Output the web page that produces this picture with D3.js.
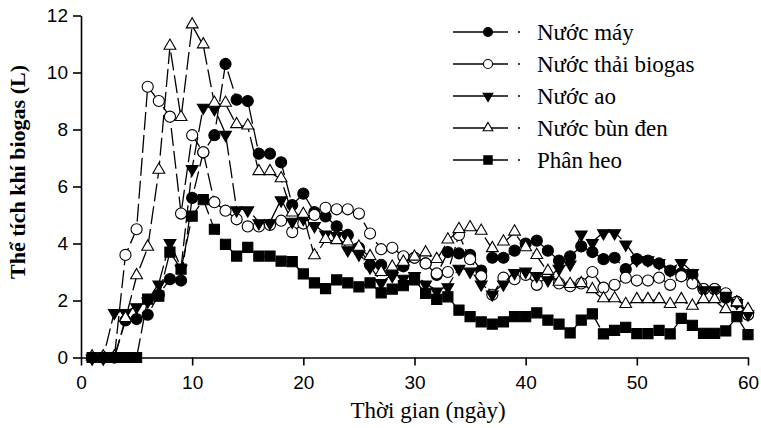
<!DOCTYPE html>
<html>
<head>
<meta charset="utf-8">
<script src="https://cdn.jsdelivr.net/npm/d3@7"></script>
<style>
  body { margin: 0; background: #fff; }
  svg { display: block; }
</style>
</head>
<body>
<div id="chart"></div>
<script>
// days 1..60
var days = d3.range(1, 61);

var nuocMay = [0,0,0,1.3,1.35,1.5,2.2,2.75,2.7,5.6,7.2,7.8,10.3,9.05,9.0,7.15,7.15,6.85,5.35,5.75,
  5.1,4.95,4.6,4.3,3.85,3.25,3.25,3.0,3.2,3.5,3.3,2.9,3.7,3.65,3.6,3.05,3.5,3.5,3.75,4.0,
  4.1,3.75,3.4,3.55,3.9,3.7,3.45,3.5,3.1,3.45,3.4,3.3,3.05,2.95,2.9,2.4,2.4,2.1,1.95,1.5];
var nuocThai = [0,0,0,3.6,4.5,9.5,9.0,8.45,5.05,7.8,7.2,5.45,5.15,4.85,4.6,4.6,4.65,4.8,4.4,4.7,
  5.0,5.25,5.2,5.2,5.05,4.35,3.8,3.85,3.55,3.5,3.3,2.95,3.0,4.3,3.45,2.85,2.2,2.8,2.75,2.9,
  2.55,2.85,2.6,2.5,2.6,3.0,2.45,2.55,2.8,2.7,2.7,2.8,2.55,2.85,2.6,2.4,2.4,2.25,1.95,1.5];
var nuocAo = [0,0,1.6,1.6,1.8,2.0,2.6,4.05,3.15,6.65,8.8,8.75,7.85,5.2,5.2,4.75,4.75,5.55,4.8,4.9,
  4.65,4.35,4.3,3.8,3.65,3.2,2.65,2.9,2.8,2.9,2.6,2.35,2.5,3.15,3.05,2.6,2.25,2.6,3.0,3.05,
  2.9,2.75,3.15,3.3,4.35,4.05,4.4,4.4,4.0,3.45,3.45,3.35,3.1,3.35,3.0,2.4,2.4,2.2,1.95,1.55];
var nuocBun = [0,0,0,1.35,2.85,3.85,6.55,10.9,8.4,11.65,10.95,8.9,8.9,8.15,8.1,6.5,6.5,6.25,5.05,5.0,
  3.55,4.12,4.08,4.03,3.85,3.52,2.96,3.15,3.32,3.5,3.65,3.42,4.1,4.47,4.53,4.41,3.8,4.03,4.38,3.83,
  3.56,3.0,2.62,2.54,2.57,2.36,2.04,2.04,1.84,2.01,2.01,2.01,1.84,2.01,1.78,2.01,2.01,1.66,1.9,1.66];
var phanHeo = [0,0,0,0,0,2.05,2.15,3.7,3.1,4.96,5.54,4.5,3.97,3.56,3.86,3.56,3.56,3.38,3.36,2.93,
  2.62,2.42,2.72,2.62,2.48,2.62,2.27,2.4,2.52,2.72,2.25,2.04,2.13,1.66,1.43,1.25,1.17,1.25,1.43,1.43,
  1.57,1.31,1.17,0.86,1.31,1.53,0.83,0.95,1.06,0.84,0.84,0.95,0.83,1.37,1.13,0.85,0.85,0.93,1.43,0.8];

var seriesNames = ["Nước máy", "Nước thải biogas", "Nước ao", "Nước bùn đen", "Phân heo"];
var xTicks = [0, 10, 20, 30, 40, 50, 60];
var yTicks = [0, 2, 4, 6, 8, 10, 12];

var series = [
  {name: seriesNames[0], values: nuocMay, shape: "circle", fill: "#000"},
  {name: seriesNames[1], values: nuocThai, shape: "circle", fill: "#fff"},
  {name: seriesNames[2], values: nuocAo, shape: "down", fill: "#000"},
  {name: seriesNames[3], values: nuocBun, shape: "up", fill: "#fff"},
  {name: seriesNames[4], values: phanHeo, shape: "square", fill: "#000"}
];

var W = 761, H = 428;
var svg = d3.select("#chart").append("svg").attr("width", W).attr("height", H);

var x = d3.scaleLinear().domain([0, 60]).range([81, 748]);
var y = d3.scaleLinear().domain([0, 12]).range([357.5, 15.5]);

// axes
var xAxis = svg.append("g").attr("transform", "translate(0," + y(0) + ")")
  .call(d3.axisBottom(x).tickValues(xTicks).tickSize(8).tickSizeOuter(0));
var yAxis = svg.append("g").attr("transform", "translate(" + x(0) + ",0)")
  .call(d3.axisLeft(y).tickValues(yTicks).tickSize(8).tickSizeOuter(0));
[xAxis, yAxis].forEach(function(g) {
  g.selectAll("path, line").attr("stroke", "#000").attr("stroke-width", 1.6);
  g.selectAll("text").attr("fill", "#000").style("font-family", "'Liberation Sans', Arial, sans-serif").style("font-size", "19px");
});
xAxis.selectAll("text").attr("dy", "1.1em");
yAxis.selectAll("text").attr("x", -13);

function symbolPath(shape, s) {
  if (shape == "circle") return d3.symbol().type(d3.symbolCircle).size(s * s * 0.8)();
  if (shape == "square") return d3.symbol().type(d3.symbolSquare).size(s * s * 0.85)();
  return d3.symbol().type(d3.symbolTriangle).size(s * s * 0.5)();
}

var line = d3.line().x(function(d, i) { return x(days[i]); }).y(function(d) { return y(d); });

series.forEach(function(s) {
  var g = svg.append("g");
  g.append("path").attr("d", line(s.values)).attr("fill", "none")
    .attr("stroke", "#000").attr("stroke-width", 1.3).attr("stroke-dasharray", "18,5");
  g.selectAll("path.pt").data(s.values).enter().append("path").attr("class", "pt")
    .attr("d", symbolPath(s.shape, 11))
    .attr("transform", function(d, i) {
      var ty = y(d) + (s.shape == "up" ? -1 : s.shape == "down" ? 1 : 0);
      return "translate(" + x(days[i]) + "," + ty + ")" + (s.shape == "down" ? " rotate(180)" : "");
    })
    .attr("fill", s.fill).attr("stroke", "#000").attr("stroke-width", 1.1);
});

// legend
var leg = svg.append("g");
series.forEach(function(s, i) {
  var ly = 32 + i * 32;
  var r = leg.append("g").attr("transform", "translate(0," + ly + ")");
  r.append("line").attr("x1", 453).attr("x2", 508).attr("stroke", "#000").attr("stroke-width", 1.3);
  r.append("line").attr("x1", 518).attr("x2", 520).attr("stroke", "#000").attr("stroke-width", 1.3);
  r.append("path").attr("d", symbolPath(s.shape, 9))
    .attr("transform", "translate(488,0)" + (s.shape == "down" ? " rotate(180)" : ""))
    .attr("fill", s.fill).attr("stroke", "#000").attr("stroke-width", 1.1);
  r.append("text").attr("x", 537).attr("y", 8).text(s.name)
    .style("font-family", "'Liberation Serif', 'Times New Roman', serif").style("font-size", "23px");
});

// titles
svg.append("text").attr("x", 428).attr("y", 418).attr("text-anchor", "middle")
  .style("font-family", "'Liberation Serif', 'Times New Roman', serif").style("font-size", "23px")
  .text("Thời gian (ngày)");
svg.append("text").attr("transform", "translate(25,172) rotate(-90)").attr("text-anchor", "middle")
  .style("font-family", "'Liberation Serif', 'Times New Roman', serif").style("font-size", "22px").style("font-weight", "bold")
  .text("Thể tích khí biogas (L)");
</script>
</body>
</html>
